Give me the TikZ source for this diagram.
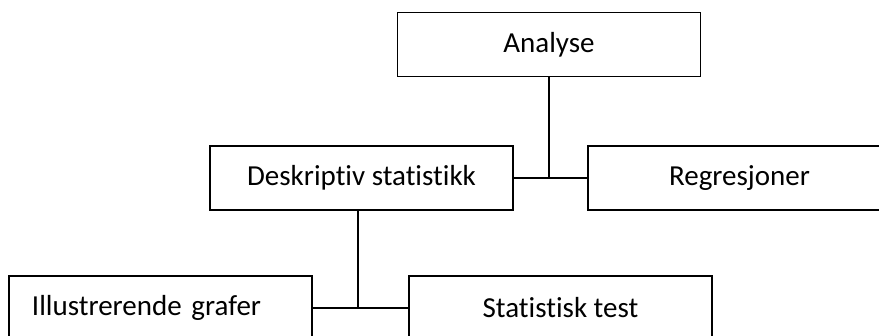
\documentclass[tikz,border=0pt]{standalone}
\usepackage{fontspec}
\setmainfont{Carlito}[Ligatures=NoCommon]

\begin{document}
\begin{tikzpicture}[
		x=0.5pt, y=-0.5pt,
		box/.style={rectangle,draw=black,line width=0.8pt,minimum width=151.5pt,minimum height=32pt,inner sep=0pt,font=\fontsize{14.5}{17}\selectfont},
		link/.style={draw=black,line width=0.8pt}
	]
		\clip (0,0) rectangle (879,336);
		\node[box] (analyse) at (549,44.5) {Analyse};
		\node[box] (deskriptiv) at (361.5,178) {Deskriptiv statistikk};
		\node[box] (regresjoner) at (739.5,178) {Regresjoner};
		\node[box,inner xsep=11.5pt,text width=128.5pt,align=left] (grafer) at (160.5,308) {Illustrerende grafer};
		\node[box] (test) at (560.5,308) {Statistisk test};
		\coordinate (j1) at (549,178);
		\coordinate (j2) at (358,308);
		\draw[link] (analyse.south) -- (j1);
		\draw[link] (deskriptiv.east) -- (regresjoner.west);
		\draw[link] (deskriptiv.south -| j2) -- (j2);
		\draw[link] (grafer.east) -- (test.west);
	\end{tikzpicture}
\end{document}
